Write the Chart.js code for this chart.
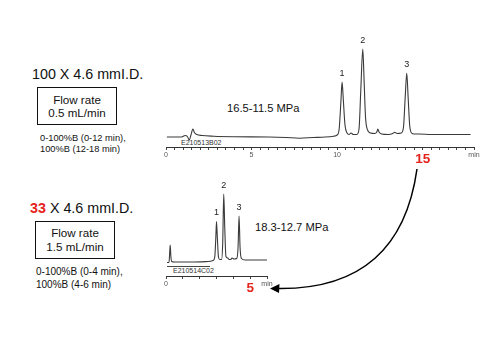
<!DOCTYPE html>
<html>
<head>
<meta charset="utf-8">
<script src="https://cdn.jsdelivr.net/npm/chart.js@4.4.1/dist/chart.umd.min.js"></script>
<style>
  html, body { margin: 0; padding: 0; background: #fff; }
  #stage { position: relative; width: 497px; height: 347px; overflow: hidden;
           font-family: Arial, "Liberation Sans", sans-serif; color: #111; }
  .abs { position: absolute; white-space: nowrap; }
  .box { position: absolute; box-sizing: border-box; border: 1.5px solid #111;
         display: flex; flex-direction: column; align-items: center; justify-content: center;
         font-size: 11.6px; }
  .red { color: #e5231b; font-weight: bold; }
  .fileid { font-size: 7px; line-height: 8px; color: #333; }
  canvas { position: absolute; }
  svg { position: absolute; left: 0; top: 0; }
</style>
</head>
<body>
<div id="stage">
  <!-- 100 mm column -->
  <div class="abs" style="left:32px;top:65px;font-size:14.3px;line-height:18px;">100 X 4.6 mmI.D.</div>
  <div class="box" style="left:37px;top:87px;width:80px;height:38px;line-height:13px;">
    <div>Flow rate</div><div>0.5 mL/min</div>
  </div>
  <div class="abs" style="left:40px;top:132.5px;font-size:9.3px;line-height:11px;">0-100%B (0-12 min),<br>100%B (12-18 min)</div>
  <div class="abs" style="left:227px;top:101.5px;font-size:11.2px;line-height:13px;">16.5-11.5 MPa</div>
  <div class="abs fileid" style="left:181px;top:139px;">E210513B02</div>

  <!-- 33 mm column -->
  <div class="abs" style="left:30px;top:199px;font-size:14.3px;line-height:18px;"><span class="red">33</span> X 4.6 mmI.D.</div>
  <div class="box" style="left:35px;top:221px;width:80px;height:38px;line-height:14px;">
    <div>Flow rate</div><div>1.5 mL/min</div>
  </div>
  <div class="abs" style="left:36px;top:264.5px;font-size:10px;line-height:13px;">0-100%B (0-4 min),<br>100%B (4-6 min)</div>
  <div class="abs" style="left:255px;top:220.5px;font-size:11.2px;line-height:13px;">18.3-12.7 MPa</div>
  <div class="abs fileid" style="left:167px;top:266px;width:37px;padding-left:6px;border-top:1px solid #444;">E210514C02</div>

  <canvas id="topChart" width="340" height="147" style="left:150px;top:20px;"></canvas>
  <canvas id="bottomChart" width="130" height="126" style="left:150px;top:170px;"></canvas>

  <!-- arrow from the 15 min end of the long run to the 5 min end of the short run -->
  <svg width="497" height="347">
    <path d="M417,169 Q400,290 278,288.5" fill="none" stroke="#000" stroke-width="1.5"/>
    <polygon points="270,288.5 279.5,284 279,293" fill="#000"/>
  </svg>
</div>

<script>
// Long column run (min, detector signal)
const topTime = [0.05, 0.9, 1.12, 1.25, 1.36, 1.46, 1.57, 1.66, 1.8, 2.1, 2.8, 4, 6, 7, 7.8, 8.6, 9.3, 9.8,
  10.0, 10.12, 10.22, 10.29, 10.36, 10.46, 10.58, 10.7, 10.81, 10.95, 11.15, 11.28, 11.38, 11.5, 11.58,
  11.66, 11.78, 11.95, 12.2, 12.32, 12.38, 12.45, 12.6, 13.0, 13.25, 13.37, 13.5, 13.75, 13.88, 13.98,
  14.07, 14.15, 14.24, 14.35, 14.5, 14.8, 15.5, 17.8];
const topSignal = [0, 0, 1.5, 0.5, -3, 2, 8, 4.5, 2.5, 1.5, 0.8, 0.3, 0, -0.5, -1.2, -0.5, 0, 0.8,
  2, 8, 35, 55, 38, 12, 4, 2.5, 4, 2.5, 2.5, 8, 45, 88, 55,
  20, 7, 4, 3.5, 5, 8, 5, 3, 2.5, 3.5, 4.7, 3.5, 4, 10, 40,
  64, 40, 12, 4, 3, 3, 2.5, 2.5];
const topPeakTimes = [10.29, 11.5, 14.07];
const topPeakNames = ['1', '2', '3'];

// Short column run (min, detector signal)
const bottomTime = [0.06, 0.18, 0.22, 0.25, 0.29, 0.34, 0.5, 1.5, 2.5, 2.8, 2.9, 2.96, 3.0, 3.05, 3.12,
  3.2, 3.3, 3.37, 3.43, 3.49, 3.56, 3.67, 3.75, 3.85, 3.92, 4.05, 4.2, 4.28, 4.34, 4.4, 4.48, 4.7, 6.0];
const bottomSignal = [0, 0, 10, 17.5, 6, 1, 0.5, 0.5, 1, 2, 6, 25, 41, 25, 5,
  3, 3, 20, 68.5, 35, 6, 4.5, 3, 3, 4.5, 3.5, 4, 15, 46.5, 15, 4, 2.5, 2.5];
const bottomPeakTimes = [3.0, 3.43, 4.34];
const bottomPeakNames = ['1', '2', '3'];

// Time axis tick labels: plain numbers, one highlighted run length, and the unit at the end
const topTickLabels = { 0: '0', 5: '5', 10: '10', 15: '15', 18: 'min' };
const topHighlight = 15;
const bottomTickLabels = { 0: '0', 5: '5', 6: 'min' };
const bottomHighlight = 5;

const RED = '#e5231b';
const FONT = 'Arial, "Liberation Sans", sans-serif';

function tickKey(v) { return Math.round(v * 1000) / 1000; }
function isHighlight(c, h) { return !!(c && c.tick) && tickKey(c.tick.value) === h; }

const peakLabels = {
  id: 'peakLabels',
  afterDatasetsDraw(chart, args, opts) {
    const { ctx, scales: { x, y } } = chart;
    const pts = chart.data.datasets[0].data;
    ctx.save();
    ctx.font = '9px ' + FONT;
    ctx.fillStyle = '#222';
    ctx.textAlign = 'center';
    ctx.textBaseline = 'bottom';
    opts.times.forEach((t, i) => {
      let h = -Infinity;
      pts.forEach(p => { if (Math.abs(p.x - t) < 0.1) h = Math.max(h, p.y); });
      ctx.fillText(opts.names[i], x.getPixelForValue(t), y.getPixelForValue(h) - 4);
    });
    ctx.restore();
  }
};

function makeChart(id, times, signal, cfg) {
  return new Chart(document.getElementById(id), {
    type: 'line',
    data: {
      datasets: [{
        data: times.map((t, i) => ({ x: t, y: signal[i] })),
        borderColor: '#3a3a3a',
        borderWidth: 1.1,
        pointRadius: 0,
        cubicInterpolationMode: 'monotone',
        fill: false
      }]
    },
    options: {
      responsive: false,
      animation: false,
      events: [],
      layout: { autoPadding: false, padding: cfg.padding },
      plugins: {
        legend: { display: false },
        tooltip: { enabled: false },
        peakLabels: { times: cfg.peakTimes, names: cfg.peakNames }
      },
      scales: {
        x: {
          type: 'linear',
          min: 0,
          max: cfg.xMax,
          border: { display: true, color: '#333', width: 1 },
          grid: { display: true, drawOnChartArea: false, drawTicks: true, tickLength: 3, color: '#444', lineWidth: 1 },
          ticks: {
            stepSize: cfg.step,
            autoSkip: false,
            maxRotation: 0,
            padding: 1,
            callback: v => cfg.labels[tickKey(v)] ?? '',
            color: c => isHighlight(c, cfg.highlight) ? RED : '#555',
            font: c => isHighlight(c, cfg.highlight)
              ? { family: FONT, size: 13.5, weight: 'bold' }
              : { family: FONT, size: 7 }
          },
          afterFit(s) { s.height = 20; }
        },
        y: { display: false, min: cfg.yMin, max: cfg.yMax }
      }
    },
    plugins: [peakLabels]
  });
}

makeChart('topChart', topTime, topSignal, {
  xMax: 18, step: 0.5, yMin: -10, yMax: 107,
  padding: { left: 16, right: 16, top: 10, bottom: 0 },
  labels: topTickLabels, highlight: topHighlight,
  peakTimes: topPeakTimes, peakNames: topPeakNames
});

makeChart('bottomChart', bottomTime, bottomSignal, {
  xMax: 6, step: 1, yMin: -13.5, yMax: 82.5,
  padding: { left: 16, right: 13, top: 10, bottom: 0 },
  labels: bottomTickLabels, highlight: bottomHighlight,
  peakTimes: bottomPeakTimes, peakNames: bottomPeakNames
});
</script>
</body>
</html>
